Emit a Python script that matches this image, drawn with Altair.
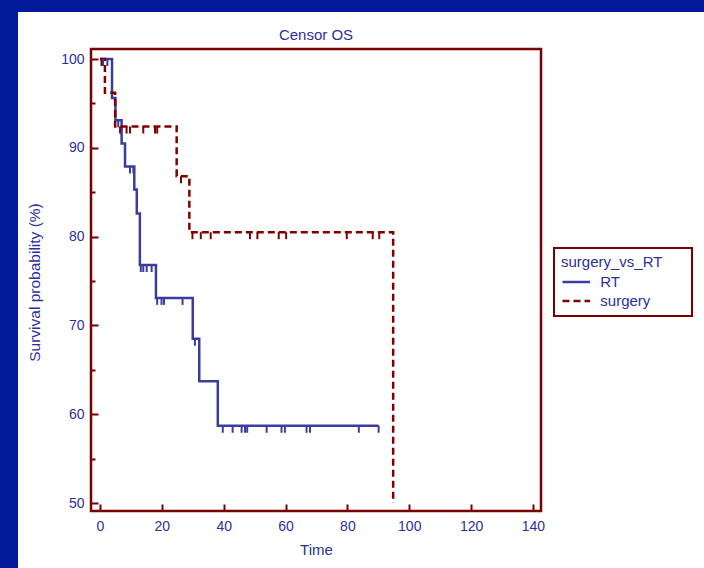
import altair as alt
import pandas as pd

# ---- data ----
rt_time = [0, 3.9, 5.0, 7.0, 8.1, 11.1, 11.9, 12.9, 18.1, 30.0, 32.1, 38.1, 90.1]
rt_surv = [100, 95.6, 93.1, 90.5, 87.9, 85.3, 82.6, 76.8, 73.1, 68.5, 63.7, 58.7, 58.7]
rt_censor = [1.0, 2.4, 5.9, 9.7, 10.8, 13.2, 14.0, 15.1, 16.7, 18.5, 19.9, 20.7, 26.7,
             30.7, 39.7, 42.9, 45.8, 46.9, 47.6, 53.9, 58.7, 59.8, 66.8, 67.9, 83.7, 90.1]

su_time = [0, 1.6, 4.9, 24.8, 28.9, 94.8]
su_surv = [100, 96.2, 92.4, 86.8, 80.5, 50]
su_censor = [0.5, 6.5, 8.6, 9.7, 14.0, 17.8, 18.5, 26.2, 29.9, 32.6, 35.8, 48.5, 50.9,
             57.8, 60.2, 79.8, 88.2, 90.3]

groups = ["RT", "surgery"]
x_ticks = list(range(0, 141, 10))
y_ticks = list(range(50, 101, 5))

# ---- styles ----
NAVY = "#021a9a"
MAROON = "#780000"
BLUE = "#3a3da0"
RED = "#800000"
TXT = "#2d2f9c"
FONT = "Liberation Sans"


def step_at(times, survs, c):
    s = survs[0]
    for t, v in zip(times, survs):
        if t <= c:
            s = v
    return s


curve = pd.DataFrame({
    "group": ["RT"] * len(rt_time) + ["surgery"] * len(su_time),
    "time": rt_time + su_time,
    "surv": rt_surv + su_surv,
})
cens = pd.DataFrame({
    "group": ["RT"] * len(rt_censor) + ["surgery"] * len(su_censor),
    "time": rt_censor + su_censor,
    "surv": [step_at(rt_time, rt_surv, c) for c in rt_censor]
    + [step_at(su_time, su_surv, c) for c in su_censor],
})

xscale = alt.Scale(domain=[-2.9, 142.6], nice=False, zero=False)
yscale = alt.Scale(domain=[49.1, 101.13], nice=False, zero=False)

xaxis = alt.Axis(
    values=x_ticks,
    labelExpr="datum.value % 20 === 0 ? datum.label : ''",
    offset=-7, tickSize=7, tickWidth=2, tickColor=MAROON,
    tickDash={"condition": {"test": "datum.value % 20 !== 0", "value": [0, 3, 4]}, "value": [1, 0]},
    domain=False, grid=False, labelFlush=False, labelPadding=8,
    labelFont=FONT, labelFontSize=14, labelColor=TXT,
    title="Time", titleFont=FONT, titleFontSize=15, titleFontWeight="normal", titleColor=TXT,
    titleX=225, titleY=50, titleAlign="center", titleBaseline="alphabetic",
)
yaxis = alt.Axis(
    values=y_ticks,
    labelExpr="datum.value % 10 === 0 ? datum.label : ''",
    offset=-7, tickSize=7, tickWidth=2, tickColor=MAROON,
    tickDash={"condition": {"test": "datum.value % 10 !== 0", "value": [0, 3, 4]}, "value": [1, 0]},
    domain=False, grid=False, labelFlush=False, labelPadding=7,
    labelFont=FONT, labelFontSize=14, labelColor=TXT,
    title="Survival probability (%)", titleFont=FONT, titleFontSize=15.5, titleFontWeight="normal",
    titleColor=TXT, titleX=-59, titleY=233, titleAlign="center", titleBaseline="alphabetic",
    titleAngle=270,
)

legend = alt.Legend(
    title="surgery_vs_RT" + "\u2800" * 2, orient="none", legendX=463, legendY=199,
    strokeColor=MAROON, fillColor="white", padding=7,
    titleFont=FONT, titleFontSize=15, titleFontWeight="normal", titleColor=TXT, titlePadding=1,
    labelFont=FONT, labelFontSize=15, labelColor=TXT, labelOffset=13,
    symbolType="M-1.45,0H1.45", symbolSize=361, symbolOffset=4.3, symbolStrokeWidth=2.5,
    rowPadding=0,
)

bgdata = pd.DataFrame({"k": [0]})
left_strip = alt.Chart(bgdata).mark_rect(color=NAVY).encode(
    x=alt.value(-91), x2=alt.value(-73), y=alt.value(-49), y2=alt.value(519))
top_strip = alt.Chart(bgdata).mark_rect(color=NAVY).encode(
    x=alt.value(-91), x2=alt.value(613), y=alt.value(-49), y2=alt.value(-37))

lines = alt.Chart(curve).mark_line(interpolate="step-after", strokeWidth=2.5).encode(
    x=alt.X("time:Q", scale=xscale, axis=xaxis),
    y=alt.Y("surv:Q", scale=yscale, axis=yaxis),
    color=alt.Color("group:N", scale=alt.Scale(domain=groups, range=[BLUE, RED]), legend=legend),
    strokeDash=alt.StrokeDash("group:N", scale=alt.Scale(domain=groups, range=[[1, 0], [7, 4]]),
                              legend=legend),
)

tick_rt = alt.Chart(cens).transform_filter(alt.datum.group == "RT").mark_tick(
    orient="vertical", size=7, thickness=2, yOffset=3.5, color=BLUE, opacity=1).encode(
    x=alt.X("time:Q", scale=xscale), y=alt.Y("surv:Q", scale=yscale))
tick_su = alt.Chart(cens).transform_filter(alt.datum.group == "surgery").mark_tick(
    orient="vertical", size=7, thickness=2, yOffset=3.5, color=RED, opacity=1).encode(
    x=alt.X("time:Q", scale=xscale), y=alt.Y("surv:Q", scale=yscale))

chart = alt.layer(left_strip, top_strip, lines, tick_rt, tick_su).properties(
    width=450, height=462,
    autosize=alt.AutoSizeParams(type="none"),
    padding={"left": 91, "top": 49, "right": 163, "bottom": 57},
    title=alt.Title("Censor OS", font=FONT, fontSize=15, fontWeight="normal", color=TXT,
                    anchor="middle", frame="group", offset=0, dy=55, baseline="alphabetic"),
).configure(background="white").configure_view(
    stroke=MAROON, strokeWidth=2.5
).configure_legend(strokeWidth=2)

chart.save("out.html", embed_options={"renderer": "svg", "actions": False})
